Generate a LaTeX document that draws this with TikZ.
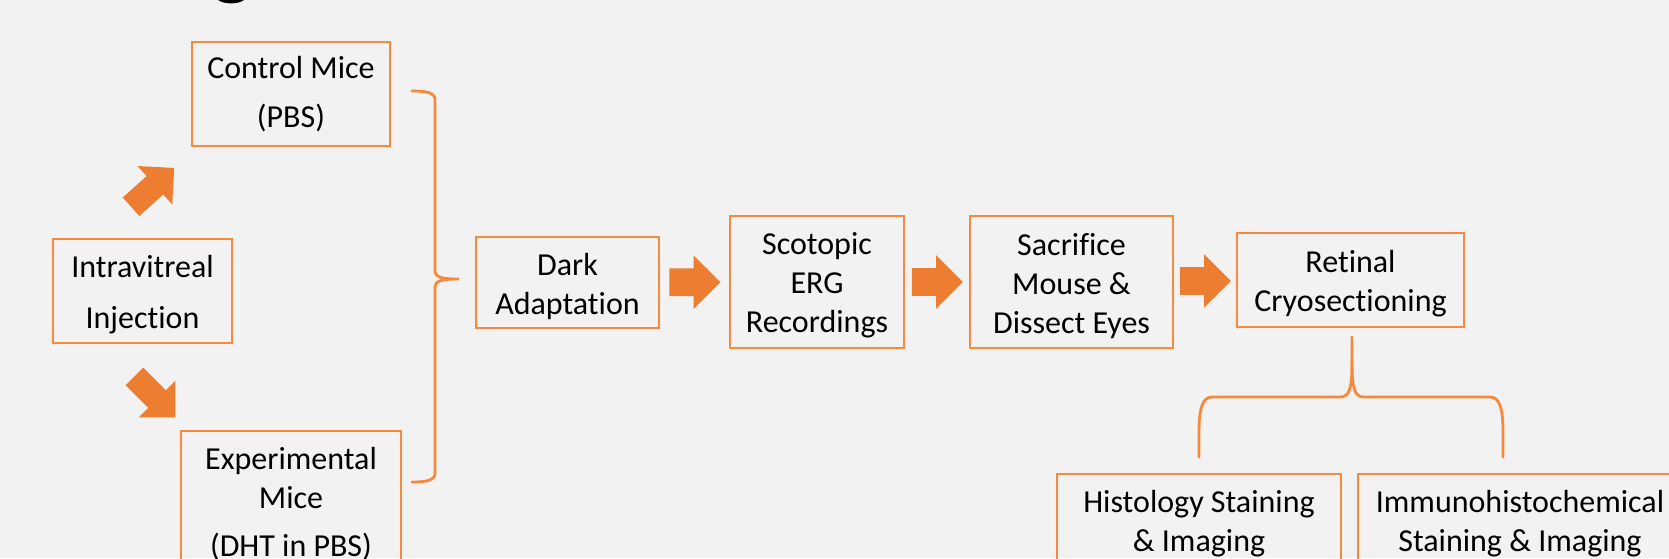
\documentclass[tikz,border=0pt]{standalone}
\usepackage{fontspec}
\setmainfont{Carlito}[Ligatures=NoCommon]
\usetikzlibrary{shapes.arrows,calc}
\definecolor{bg}{HTML}{F2F2F2}
\definecolor{lineor}{HTML}{F58A3D}
\definecolor{fillor}{HTML}{ED7D31}
\newcommand\topstrut{\rule{0pt}{14.6pt}}
\begin{document}
\begin{tikzpicture}[x=0.5pt,y=-0.5pt,
  box/.style={draw=lineor, line width=1.4pt, inner sep=0pt, align=center,
    font=\fontsize{16}{19.5}\selectfont, text=black},
  blockarrow/.style={single arrow, fill=fillor, draw=none, inner xsep=0pt,
    inner ysep=6.75pt, single arrow head extend=6.5pt, single arrow tip angle=90,
    minimum height=25.5pt, minimum width=0pt},
  diagarrow/.style={single arrow, fill=fillor, draw=none, inner xsep=0pt,
    inner ysep=6pt, single arrow head extend=6.75pt, single arrow tip angle=90,
    minimum height=29pt, minimum width=0pt},
  bracepath/.style={draw=lineor, line width=1.4pt, line cap=round},
]
\useasboundingbox (0,0) rectangle (1669,558);
\clip (0,0) rectangle (1669,558);
\fill[bg] (0,0) rectangle (1669,558);
% cut-off fragment of a heading at the top edge
\fill[black] (218,0) .. controls (224,4.5) and (238,4.5) .. (244,0) -- cycle;

% boxes
\node[box, minimum width=99pt, minimum height=52pt] (ctrl) at (291,94) {Control Mice\\[5pt](PBS)};
\node[box, minimum width=89.5pt, minimum height=52pt] (inj) at (142.5,291) {\topstrut Intravitreal\\[6pt]Injection};
\node[box, minimum width=110pt, minimum height=73pt] (exp) at (291,504) {Experimental\\Mice\\[4.5pt](DHT in PBS)};
\node[box, minimum width=91.5pt, minimum height=45.5pt] (dark) at (567.5,282.5) {\topstrut Dark\\Adaptation};
\node[box, minimum width=87pt, minimum height=66pt] (scot) at (817,282) {\topstrut Scotopic\\ERG\\Recordings};
\node[box, minimum width=101.5pt, minimum height=66pt] (sacr) at (1071.5,282) {\topstrut Sacrifice\\Mouse \&\\Dissect Eyes};
\node[box, minimum width=113.5pt, minimum height=47pt] (ret) at (1350.5,280) {\topstrut Retinal\\Cryosectioning};
\node[box, minimum width=142pt, minimum height=50pt] (hist) at (1199,524) {Histology Staining\\\& Imaging};
\node[box, minimum width=162pt, minimum height=50pt] (imm) at (1520,524) {Immunohistochemical\\Staining \& Imaging};

% block arrows
\node[diagarrow, rotate=42] (up) at (148,191.5) {};
\node[diagarrow, rotate=-45] (down) at (150.5,392.5) {};
\node[blockarrow] (a1) at ($(dark.east)!0.5!(scot.west)+(-6.5,0)$) {};
\node[blockarrow] (a2) at ($(scot.east)!0.5!(sacr.west)+(-6.5,0)$) {};
\node[blockarrow] (a3) at ($(sacr.east)!0.5!(ret.west)+(-6.5,0)$) {};

% big right brace
\draw[bracepath] (412,91) .. controls (428,91) and (435,93) .. (435,100)
  -- (435,270) .. controls (435,277) and (440,279) .. (459,279)
  .. controls (440,279) and (435,281) .. (435,288)
  -- (435,473) .. controls (435,480) and (428,482) .. (412,482);

% lower brace
\draw[bracepath] (1352,337) -- (1352,362) .. controls (1352,390) and (1349,397) .. (1340,397)
  -- (1212,397) .. controls (1202,397) and (1199,410) .. (1199,432) -- (1199,457);
\draw[bracepath] (1352,362) .. controls (1352,390) and (1355,397) .. (1364,397)
  -- (1490,397) .. controls (1500,397) and (1503,410) .. (1503,432) -- (1503,457);
\end{tikzpicture}
\end{document}
